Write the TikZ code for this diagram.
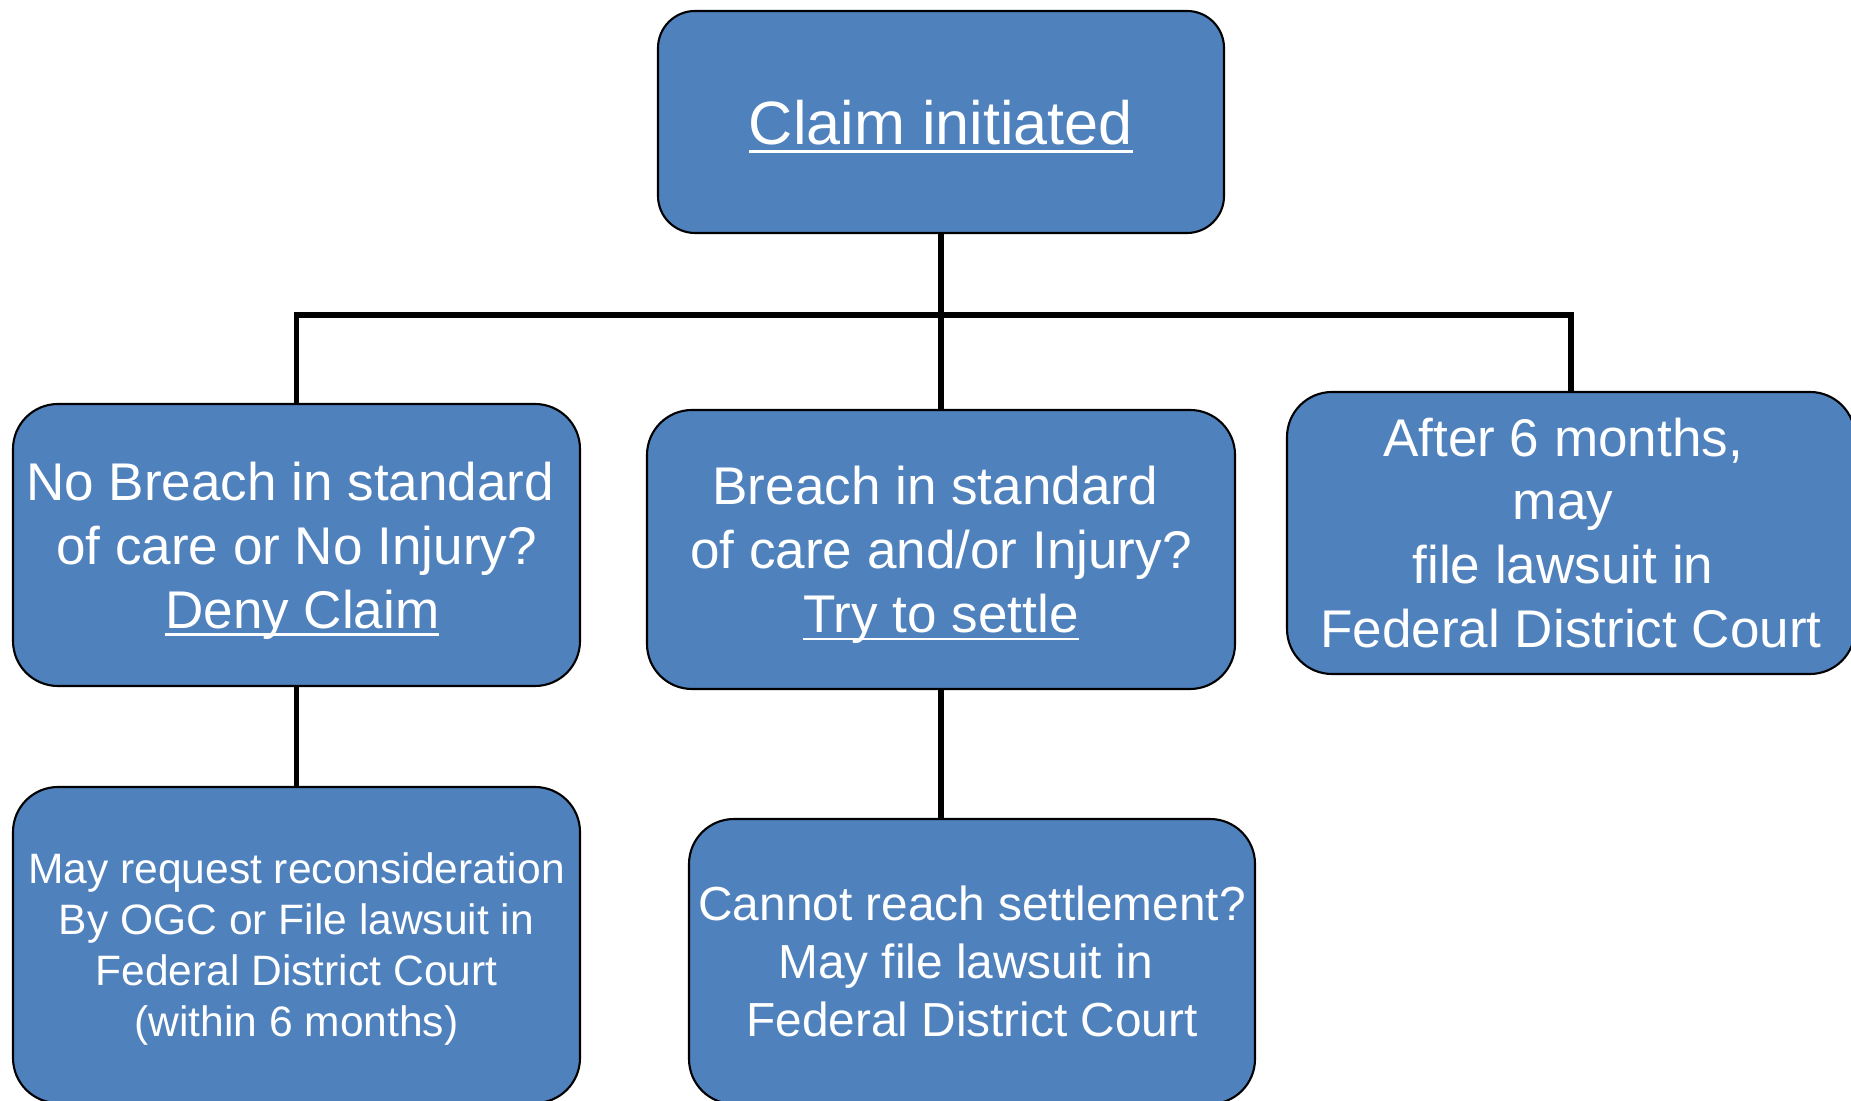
\documentclass[tikz,border=0pt]{standalone}
\usepackage{fontspec}
\setmainfont{Liberation Sans}
\usepackage{xcolor}
\definecolor{boxblue}{HTML}{4F81BD}
\newsavebox{\ulbox}
\newcommand{\undl}[1]{\sbox{\ulbox}{#1}\rlap{\rule[-0.14em]{\wd\ulbox}{0.045em}}\usebox{\ulbox}}
\newcommand{\tsp}[1]{\makebox[#1]{}}

\begin{document}
\begin{tikzpicture}[
  box/.style={draw=black, line width=0.6pt, fill=boxblue, rounded corners=0.45cm,
    text=white, align=center, inner sep=0pt},
  link/.style={black, line width=1.7pt}]
\useasboundingbox (0,0) rectangle (18.51,11);
\clip (0,0) rectangle (18.51,11);

% top of the tree
\node [box, rounded corners=0.37cm, minimum width=5.66cm, minimum height=2.22cm,
  text depth=0pt, font=\fontsize{17.4}{21}\selectfont] (claim) at (9.41,9.78) {\undl{Claim initiated}};

% second row
\node [box, minimum width=5.67cm, minimum height=2.82cm, text depth=0pt,
  font=\fontsize{15.1}{18.2}\selectfont] (deny) at (2.965,5.55)
  {No Breach in standard\tsp{0.24em}\\ of care or No Injury?\\ \tsp{0.22em}\undl{Deny Claim}};
\node [box, minimum width=5.88cm, minimum height=2.79cm, text depth=0pt,
  font=\fontsize{15.1}{18.2}\selectfont] (settle) at (9.41,5.505)
  {Breach in standard\tsp{0.22em}\\ of care and/or Injury?\\ \undl{Try to settle}};
\node [box, minimum width=5.68cm, minimum height=2.82cm,
  font=\fontsize{15.1}{18.2}\selectfont] (after) at (15.71,5.67)
  {After 6 months,\tsp{0.3em}\\ may\tsp{0.3em}\\ file lawsuit in\tsp{0.3em}\\ Federal District Court};

% third row
\node [box, minimum width=5.67cm, minimum height=3.16cm, text depth=0pt,
  font=\fontsize{12.1}{14.5}\selectfont] (recons) at (2.965,1.55)
  {May request reconsideration\\ By OGC or File lawsuit in\\ Federal District Court\\ (within 6 months)};
\node [box, minimum width=5.66cm, minimum height=2.85cm,
  font=\fontsize{13.6}{16.5}\selectfont] (nosettle) at (9.72,1.385)
  {Cannot reach settlement?\\ May file lawsuit in\tsp{0.27em}\\ Federal District Court};

% connectors
\coordinate (bar) at (9.41,7.85);
\draw [link] (claim.south) -- (settle.north);
\draw [link] (deny.north) |- (bar) -| (after.north);
\draw [link] (deny.south) -- (recons.north);
\draw [link] (settle.south) -- (settle.south |- nosettle.north);

\end{tikzpicture}
\end{document}
